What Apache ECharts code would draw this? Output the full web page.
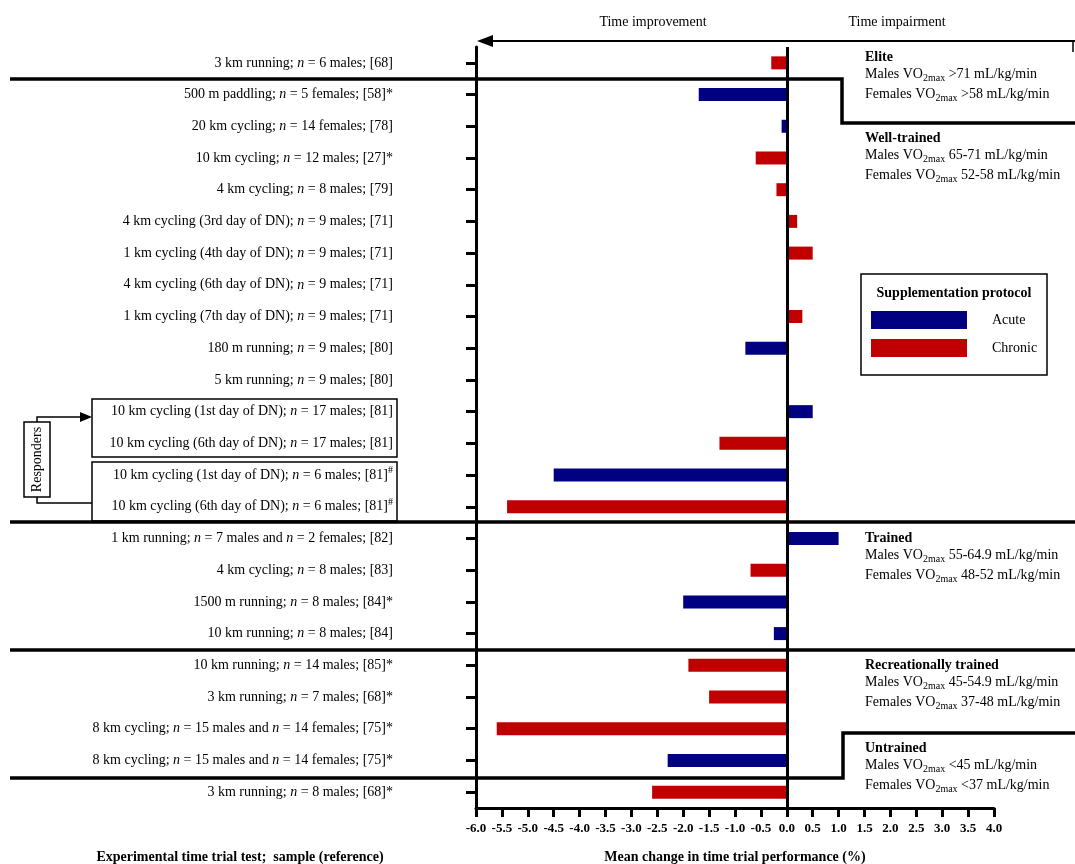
<!DOCTYPE html>
<html>
<head>
<meta charset="utf-8">
<script src="https://cdn.jsdelivr.net/npm/echarts@6/dist/echarts.min.js"></script>
<style>
  html, body { margin: 0; padding: 0; background: #fff; }
  #chart { width: 1075px; height: 864px; }
</style>
</head>
<body>
<div id="chart"></div>
<script>
// Time trial tests, top to bottom (study; sample; reference)
const categories = [
  '3 km running; n = 6 males; [68]',
  '500 m paddling; n = 5 females; [58]*',
  '20 km cycling; n = 14 females; [78]',
  '10 km cycling; n = 12 males; [27]*',
  '4 km cycling; n = 8 males; [79]',
  '4 km cycling (3rd day of DN); n = 9 males; [71]',
  '1 km cycling (4th day of DN); n = 9 males; [71]',
  '4 km cycling (6th day of DN); n = 9 males; [71]',
  '1 km cycling (7th day of DN); n = 9 males; [71]',
  '180 m running; n = 9 males; [80]',
  '5 km running; n = 9 males; [80]',
  '10 km cycling (1st day of DN); n = 17 males; [81]',
  '10 km cycling (6th day of DN); n = 17 males; [81]',
  '10 km cycling (1st day of DN); n = 6 males; [81]#',
  '10 km cycling (6th day of DN); n = 6 males; [81]#',
  '1 km running; n = 7 males and n = 2 females; [82]',
  '4 km cycling; n = 8 males; [83]',
  '1500 m running; n = 8 males; [84]*',
  '10 km running; n = 8 males; [84]',
  '10 km running; n = 14 males; [85]*',
  '3 km running; n = 7 males; [68]*',
  '8 km cycling; n = 15 males and n = 14 females; [75]*',
  '8 km cycling; n = 15 males and n = 14 females; [75]*',
  '3 km running; n = 8 males; [68]*'
];

// Mean change in time trial performance (%), one value per test
const acute = [null, -1.7, -0.1, null, null, null, null, null, null, -0.8, 0, 0.5, null, -4.5, null, 1.0, null, -2.0, -0.25, null, null, null, -2.3, null];
const chronic = [-0.3, null, null, -0.6, -0.2, 0.2, 0.5, 0, 0.3, null, null, null, -1.3, null, -5.4, null, -0.7, null, null, -1.9, -1.5, -5.6, null, -2.6];

const xTicks = { min: -6, max: 4, step: 0.5 };

const FONT = '"Liberation Serif", "Times New Roman", serif';
const BLUE = '#000080';
const RED = '#c00000';

function richLabel(s) {
  return s.replace(/\bn =/g, '{i|n} =').replace(/#$/, '{sup|#}');
}

const vo = (txt) => txt.replace('VO2max', 'VO{sub|2max}');

const groups = [
  { y: 56, title: 'Elite', m: 'Males VO2max >71 mL/kg/min', f: 'Females VO2max >58 mL/kg/min' },
  { y: 137, title: 'Well-trained', m: 'Males VO2max 65-71 mL/kg/min', f: 'Females VO2max 52-58 mL/kg/min' },
  { y: 537, title: 'Trained', m: 'Males VO2max 55-64.9 mL/kg/min', f: 'Females VO2max 48-52 mL/kg/min' },
  { y: 664, title: 'Recreationally trained', m: 'Males VO2max 45-54.9 mL/kg/min', f: 'Females VO2max 37-48 mL/kg/min' },
  { y: 747, title: 'Untrained', m: 'Males VO2max <45 mL/kg/min', f: 'Females VO2max <37 mL/kg/min' }
];

const richSub = {
  sub: { fontSize: 10, fontFamily: FONT, fill: '#000', padding: [9, 0, 0, 0] }
};

const graphics = [];
groups.forEach(g => {
  graphics.push({
    type: 'text', left: 865, top: g.y - 6, z: 10,
    style: { text: g.title, font: 'bold 14px ' + FONT, fill: '#000' }
  });
  graphics.push({
    type: 'text', left: 865, top: g.y + 11, z: 10,
    style: { text: vo(g.m), fontSize: 14, fontFamily: FONT, fill: '#000', rich: richSub }
  });
  graphics.push({
    type: 'text', left: 865, top: g.y + 31, z: 10,
    style: { text: vo(g.f), fontSize: 14, fontFamily: FONT, fill: '#000', rich: richSub }
  });
});

// group separators
const sepStyle = { stroke: '#000', lineWidth: 3.5, fill: null };
[
  [[10, 79], [842, 79], [842, 123], [1075, 123]],
  [[10, 522], [1075, 522]],
  [[10, 650], [1075, 650]],
  [[10, 778], [843, 778], [843, 733], [1075, 733]]
].forEach(pts => graphics.push({ type: 'polyline', z: 20, shape: { points: pts }, style: sepStyle }));

// direction arrow on top
graphics.push(
  { type: 'line', z: 20, shape: { x1: 486, y1: 41, x2: 1075, y2: 41 }, style: { stroke: '#000', lineWidth: 2 } },
  { type: 'polygon', z: 20, shape: { points: [[477, 41], [493, 35], [493, 47]] }, style: { fill: '#000' } },
  { type: 'line', z: 20, shape: { x1: 1073, y1: 41, x2: 1073, y2: 52 }, style: { stroke: '#000', lineWidth: 1.5 } },
  { type: 'text', z: 20, x: 653, y: 22, style: { text: 'Time improvement', fontSize: 14, fontFamily: FONT, fill: '#000', align: 'center', verticalAlign: 'middle' } },
  { type: 'text', z: 20, x: 897, y: 22, style: { text: 'Time impairment', fontSize: 14, fontFamily: FONT, fill: '#000', align: 'center', verticalAlign: 'middle' } }
);

// legend frame and title
graphics.push(
  { type: 'rect', z: 5, shape: { x: 861, y: 274, width: 186, height: 101 }, style: { fill: null, stroke: '#000', lineWidth: 1.5 } },
  { type: 'text', z: 10, x: 954, y: 293, style: { text: 'Supplementation protocol', font: 'bold 14px ' + FONT, fill: '#000', align: 'center', verticalAlign: 'middle' } }
);

// responder boxes
graphics.push(
  { type: 'rect', z: 10, shape: { x: 92, y: 399, width: 305, height: 58 }, style: { fill: null, stroke: '#000', lineWidth: 1.5 } },
  { type: 'rect', z: 10, shape: { x: 92, y: 462, width: 305, height: 59 }, style: { fill: null, stroke: '#000', lineWidth: 1.5 } },
  { type: 'rect', z: 10, shape: { x: 24, y: 422, width: 26, height: 75 }, style: { fill: '#fff', stroke: '#000', lineWidth: 1.5 } },
  { type: 'text', z: 11, x: 37, y: 459.5, rotation: Math.PI / 2, style: { text: 'Responders', fontSize: 14, fontFamily: FONT, fill: '#000', align: 'center', verticalAlign: 'middle' } },
  { type: 'polyline', z: 10, shape: { points: [[37, 422], [37, 417], [83, 417]] }, style: { stroke: '#000', lineWidth: 1.5, fill: null } },
  { type: 'polygon', z: 10, shape: { points: [[92, 417], [80, 412], [80, 422]] }, style: { fill: '#000' } },
  { type: 'polyline', z: 10, shape: { points: [[37, 497], [37, 503], [92, 503]] }, style: { stroke: '#000', lineWidth: 1.5, fill: null } }
);

// left axis title
graphics.push({
  type: 'text', z: 10, x: 240, y: 857,
  style: { text: 'Experimental time trial test;  sample (reference)', font: 'bold 14px ' + FONT, fill: '#000', align: 'center', verticalAlign: 'middle' }
});

const chart = echarts.init(document.getElementById('chart'), null, { renderer: 'canvas' });

chart.setOption({
  animation: false,
  backgroundColor: '#fff',
  grid: { left: 476, right: 81, top: 47, bottom: 56, containLabel: false, outerBoundsMode: 'none' },
  legend: {
    data: ['Acute', 'Chronic'],
    orient: 'vertical',
    left: 866, top: 306,
    itemWidth: 96, itemHeight: 18, itemGap: 10,
    icon: 'rect',
    selectedMode: false,
    textStyle: { fontSize: 14, fontFamily: FONT, color: '#000', padding: [0, 0, 0, 20] }
  },
  xAxis: {
    type: 'value',
    min: xTicks.min, max: xTicks.max, interval: xTicks.step,
    name: 'Mean change in time trial performance (%)',
    nameLocation: 'middle', nameGap: 42,
    nameTextStyle: { fontWeight: 'bold', fontSize: 14, fontFamily: FONT, color: '#000' },
    splitLine: { show: false },
    axisLine: { show: true, onZero: false, lineStyle: { color: '#000', width: 3 } },
    axisTick: { show: true, length: 9, lineStyle: { color: '#000', width: 3 } },
    axisLabel: {
      formatter: v => v.toFixed(1),
      fontWeight: 'bold', fontSize: 13, fontFamily: FONT, color: '#000', margin: 14
    }
  },
  yAxis: {
    type: 'category',
    inverse: true,
    data: categories,
    axisLine: { show: true, onZero: false, lineStyle: { color: '#000', width: 3 } },
    axisTick: { show: true, alignWithLabel: true, length: 10, lineStyle: { color: '#000', width: 3 } },
    axisLabel: {
      interval: 0,
      margin: 83,
      fontSize: 14, fontFamily: FONT, color: '#000',
      formatter: richLabel,
      rich: {
        i: { fontStyle: 'italic', fontSize: 14, fontFamily: FONT, color: '#000' },
        sup: { fontSize: 10, fontFamily: FONT, color: '#000', padding: [0, 0, 9, 0] }
      }
    }
  },
  series: [
    {
      name: 'Acute', type: 'bar', data: acute,
      barWidth: 13, barGap: '-100%',
      itemStyle: { color: BLUE }
    },
    {
      name: 'Chronic', type: 'bar', data: chronic,
      barWidth: 13, barGap: '-100%',
      itemStyle: { color: RED },
      markLine: {
        silent: true, symbol: ['none', 'none'],
        label: { show: false },
        lineStyle: { color: '#000', width: 3, type: 'solid' },
        data: [{ xAxis: 0 }],
        z: 10
      }
    }
  ],
  graphic: graphics
});
</script>
</body>
</html>
